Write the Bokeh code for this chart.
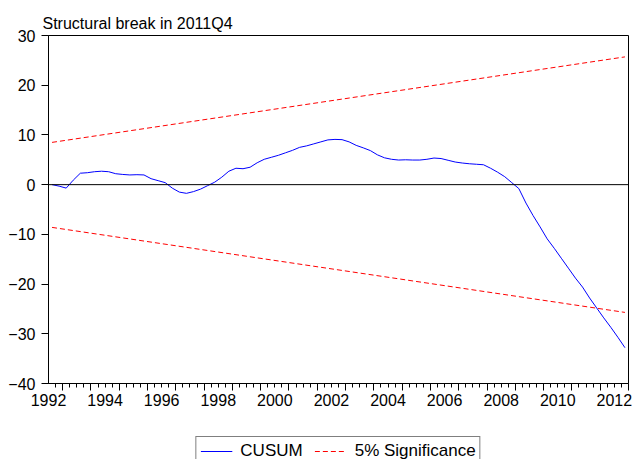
from bokeh.plotting import figure
from bokeh.models import Range1d, LinearAxis, FixedTicker, Span, Legend, LegendItem
from bokeh.layouts import column
from bokeh.embed import file_html
from bokeh.resources import INLINE

# ---- data ----
start_year = 1992
start_quarter = 3
cusum = [0.0, -0.3, -0.7, 0.9, 2.3, 2.4, 2.6, 2.7, 2.6, 2.2,
         2.05, 1.95, 2.0, 1.95, 1.2, 0.8, 0.4, -0.7, -1.5, -1.75,
         -1.4, -0.9, -0.2, 0.5, 1.5, 2.7, 3.3, 3.2, 3.5, 4.4,
         5.1, 5.5, 5.9, 6.4, 6.9, 7.5, 7.8, 8.2, 8.6, 9.0,
         9.1, 9.05, 8.6, 7.9, 7.4, 6.85, 6.0, 5.4, 5.1, 4.95,
         5.0, 4.95, 4.95, 5.1, 5.35, 5.25, 4.9, 4.55, 4.35, 4.2,
         4.1, 4.0, 3.3, 2.5, 1.6, 0.4, -0.8, -3.7, -6.2, -8.5,
         -10.9, -12.8, -14.8, -16.8, -18.8, -20.6, -22.8, -24.8, -26.8, -28.7,
         -30.7, -32.8]
upper_bound = [8.5, 25.7]
lower_bound = [-8.6, -25.7]
label_years = list(range(1992, 2013, 2))
y_ticks = [-40, -30, -20, -10, 0, 10, 20, 30]
title_text = "Structural break in 2011Q4"
series_names = ["CUSUM", "5% Significance"]

FONT = "Liberation Sans"
BLUE = "#0000FF"
RED = "#FF0000"
DASH = "5 3"

n = len(cusum)
t0 = start_year + (start_quarter - 1) / 4.0
x = [t0 + 0.125 + 0.25 * i for i in range(n)]
x_lo, x_hi = x[0] - 0.125, x[-1] + 0.125
bx = [x[0], x[-1]]

p = figure(width=632, height=414, output_backend="svg", toolbar_location=None,
           x_range=Range1d(x_lo, x_hi), y_range=Range1d(y_ticks[0], y_ticks[-1]),
           x_axis_location=None, min_border_left=48, min_border_right=4,
           min_border_top=35, min_border_bottom=31)
p.background_fill_color = "white"
p.border_fill_color = "white"
p.outline_line_color = "black"
p.outline_line_width = 1
p.xgrid.visible = False
p.ygrid.visible = False

p.title.text = title_text
p.title.text_font = FONT
p.title.text_font_size = "16px"
p.title.text_font_style = "normal"
p.title.text_color = "black"
p.title.align = "left"
p.title.vertical_align = "top"
p.title.offset = -6
p.title.standoff = 4

# y axis
ya = p.yaxis[0]
ya.ticker = FixedTicker(ticks=y_ticks, minor_ticks=[])
ya.major_tick_out = 7
ya.major_tick_in = 0
ya.major_label_standoff = 6
ya.major_label_text_font = FONT
ya.major_label_text_font_size = "16px"
ya.major_label_text_color = "black"
ya.axis_line_color = "black"
ya.major_tick_line_color = "black"

# x axis: ticks (year boundaries tall, quarters short)
first_full = int(x_lo) + 1
last_full = int(x_hi)
year_bounds = list(range(first_full, last_full + 1))
quarter_bounds = [y + q / 4.0 for y in range(int(x_lo), last_full + 1) for q in (1, 2, 3)
                  if x_lo < y + q / 4.0 < x_hi]
xa1 = LinearAxis(ticker=FixedTicker(ticks=year_bounds, minor_ticks=quarter_bounds))
xa1.major_tick_out = 7
xa1.major_tick_in = 0
xa1.minor_tick_out = 4
xa1.minor_tick_in = 0
xa1.axis_line_color = "black"
xa1.major_tick_line_color = "black"
xa1.minor_tick_line_color = "black"
xa1.major_label_overrides = {float(v): "" for v in year_bounds}
xa1.major_label_text_font_size = "1px"
xa1.major_label_standoff = 0
p.add_layout(xa1, "below")

# x axis: year labels centred in each year
label_pos = [yr + 0.5 for yr in label_years]
xa2 = LinearAxis(ticker=FixedTicker(ticks=label_pos, minor_ticks=[]))
xa2.axis_line_color = None
xa2.major_tick_line_color = None
xa2.minor_tick_line_color = None
xa2.major_tick_out = 0
xa2.major_tick_in = 0
xa2.major_label_standoff = 3
xa2.major_label_overrides = {float(v): str(yr) for v, yr in zip(label_pos, label_years)}
xa2.major_label_text_font = FONT
xa2.major_label_text_font_size = "16px"
xa2.major_label_text_color = "black"
p.add_layout(xa2, "below")

# zero line
p.add_layout(Span(location=0, dimension="width", line_color="black", line_width=1))

p.line(bx, upper_bound, line_color=RED, line_width=1, line_dash=DASH)
p.line(bx, lower_bound, line_color=RED, line_width=1, line_dash=DASH)
p.line(x, cusum, line_color=BLUE, line_width=1)

# legend strip below the chart (its lines lie outside its own empty view)
lg = figure(width=632, height=45, output_backend="svg", toolbar_location=None,
            x_range=Range1d(0, 1), y_range=Range1d(0, 1),
            x_axis_location=None, y_axis_location=None,
            min_border_left=48, min_border_right=4, min_border_top=0, min_border_bottom=0)
lg.outline_line_color = None
lg.background_fill_color = "white"
lg.border_fill_color = "white"
lg.grid.visible = False
g_cu = lg.line(x, cusum, line_color=BLUE, line_width=1)
g_sig = lg.line(bx, upper_bound, line_color=RED, line_width=1, line_dash=DASH)

legend = Legend(items=[LegendItem(label=series_names[0], renderers=[g_cu]),
                       LegendItem(label=series_names[1], renderers=[g_sig])],
                orientation="horizontal", location="top_center")
legend.label_text_font = FONT
legend.label_text_font_size = "17px"
legend.label_text_color = "black"
legend.glyph_width = 32
legend.glyph_height = 16
legend.label_height = 16
legend.label_standoff = 8
legend.spacing = 12
legend.padding = 4
legend.margin = 22
legend.border_line_color = "black"
legend.border_line_width = 1
legend.background_fill_color = "white"
legend.background_fill_alpha = 1
lg.add_layout(legend, "center")

layout = column(p, lg, spacing=0)
open("out.html", "w").write(file_html(layout, INLINE))
